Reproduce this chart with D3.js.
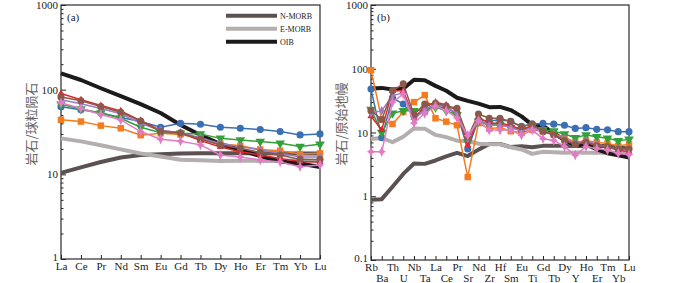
<!DOCTYPE html>
<html>
<head>
<meta charset="utf-8">
<script src="https://cdn.jsdelivr.net/npm/d3@7"></script>
<style>
    body { margin: 0; background: #fff; }
    svg { display: block; font-family: "Liberation Serif", "DejaVu Serif", serif; }
</style>
</head>
<body>
<svg id="chart" width="700" height="283"></svg>
<script>
// REE (chondrite) and spider (primitive mantle) diagrams

const reeElements = ['La', 'Ce', 'Pr', 'Nd', 'Sm', 'Eu', 'Gd', 'Tb', 'Dy', 'Ho', 'Er', 'Tm', 'Yb', 'Lu'];
const spiderElements = ['Rb', 'Ba', 'Th', 'U', 'Nb', 'Ta', 'La', 'Ce', 'Pr', 'Sr', 'Nd', 'Zr', 'Hf',
    'Sm', 'Eu', 'Ti', 'Gd', 'Tb', 'Dy', 'Y', 'Ho', 'Er', 'Tm', 'Yb', 'Lu'];

const refNames = ['N-MORB', 'E-MORB', 'OIB'];

// panel (a) - reference curves
const nmorbA = [10.4, 12.1, 14, 15.8, 16.9, 17.3, 17.6, 17.7, 17.7, 17.7, 17.7, 17.6, 17.6, 17.6];
const emorbA = [26.6, 24.5, 22.1, 19.7, 17.6, 16.2, 14.9, 14.7, 14.4, 14.5, 14.4, 14.4, 14.7, 14.4];
const oibA = [156, 130, 104, 84, 67.6, 53, 38.3, 29.1, 22.8, 19.4, 16.4, 14.2, 13.4, 12.2];

// panel (a) - samples
const blueA = [63, 58, 53, 47, 42, 36, 40, 39, 36, 35, 33.8, 32, 29.2, 30];
const orangeA = [44, 42, 37.6, 35, 29, 30.5, 29.5, 26.6, 23, 21.7, 19.7, 19, 17.4, 17.7];
const greenA = [67, 59, 53, 46, 36, 31, 30.5, 30, 26.6, 25.4, 24.4, 23.3, 21.3, 22.7];
const redA = [90, 76, 65, 56, 43, 33, 31, 25, 21, 18.5, 16.9, 15.4, 14.2, 14];
const purpleA = [76, 68, 60, 52, 40, 33, 31, 27, 23, 21.3, 19.4, 17.7, 16, 16];
const brownA = [82, 74, 63, 54, 42.6, 32, 31, 26, 22.2, 20.3, 18.1, 16.9, 15, 15];
const pinkA = [70, 60, 51, 44, 32, 26, 24.6, 22.3, 16.9, 16, 14.8, 14, 12.3, 12.9];

// panel (b) - reference curves
const nmorbB = [0.88, 0.9, 1.41, 2.24, 3.27, 3.22, 3.64, 4.23, 4.78, 4.27, 5.39, 6.6, 6.6, 5.9, 6.07,
    5.85, 6.17, 6.2, 6.17, 6.15, 6.16, 6.19, 6.16, 5.8, 5.6];
const emorbB = [7.9, 8.2, 7.06, 8.57, 11.6, 11.5, 9.17, 8.45, 7.43, 7.35, 6.65, 6.52, 6.57, 5.86, 5.42,
    4.62, 4.98, 4.91, 4.82, 4.84, 4.82, 4.81, 4.81, 4.81, 4.78];
const oibB = [48.8, 50.1, 47.1, 48.6, 67.3, 65.9, 53.9, 45.1, 35.1, 31.3, 28.4, 25, 25.2, 22.5, 17.9,
    13.2, 12.8, 9.72, 7.6, 6.37, 6.46, 5.46, 4.73, 4.38, 4.05];

// panel (b) - samples
const blueB = [48, 8.3, 35, 28, 18, 21, 26, 24, 20, 5.5, 16, 15, 16, 15, 12.5, 13.5, 13.9, 13.5, 13,
    11.6, 11.9, 11.2, 11, 10.3, 10.3];
const orangeB = [95, 16, 13.6, 21, 30, 38.6, 16.7, 14.8, 13, 2, 14, 11.5, 12, 10.5, 10, 11, 10.5, 9.5,
    8.5, 7, 7.5, 7, 6.7, 6.2, 6.5];
const greenB = [23, 10, 20, 22, 22, 23, 25, 22, 19, 7, 15, 13, 13.5, 12, 11, 12.5, 11, 10.5, 9.5, 8.3,
    9.1, 8.6, 8.1, 7.4, 7.8];
const redB = [18, 11, 45, 45, 17, 25, 30, 27, 22, 6.3, 17, 14, 14, 13, 11, 13, 10.5, 9.5, 8, 6.5, 7.2,
    6.3, 5.8, 5.3, 5];
const purpleB = [20, 22, 38, 42, 16, 23, 28, 25, 20, 8, 16, 13, 13, 12, 10.5, 12, 10, 9.5, 8, 6.8, 7.5,
    6.5, 6, 5.5, 5.3];
const brownB = [22, 16, 45, 58, 19, 28, 28.6, 26, 24, 8.5, 19.5, 16.7, 16.7, 14.8, 12.3, 13.6, 10.3, 9.1,
    7.5, 6.5, 7, 6.2, 6, 5.5, 5.5];
const pinkB = [5, 5, 30, 40, 14, 20, 26, 22, 17, 9, 15.3, 10.9, 10.9, 10.9, 9.1, 10.9, 8, 7.5, 6, 4.4,
    6, 5.6, 5.3, 4.7, 4.5];

const COLORS = {
    nmorb: '#5b5151', emorb: '#b4aeae', oib: '#1c1a1a',
    blue: '#3a6fb4', orange: '#f47b20', green: '#33a13a', red: '#e1262a',
    purple: '#9c7bc4', brown: '#8a594b', pink: '#e27bc3'
};

// four-point star for the pink samples
const star4 = {
    draw(ctx, size) {
        const r = Math.sqrt(size) * 0.85;
        const w = r * 0.3;
        ctx.moveTo(0, -r);
        ctx.lineTo(w, -w);
        ctx.lineTo(r * 0.75, 0);
        ctx.lineTo(w, w);
        ctx.lineTo(0, r);
        ctx.lineTo(-w, w);
        ctx.lineTo(-r * 0.75, 0);
        ctx.lineTo(-w, -w);
        ctx.closePath();
    }
};

const sampleStyles = [
    { key: 'blue', symbol: d3.symbolCircle, size: 40, rotate: 0 },
    { key: 'orange', symbol: d3.symbolSquare, size: 42, rotate: 0 },
    { key: 'green', symbol: d3.symbolTriangle, size: 40, rotate: 180 },
    { key: 'red', symbol: d3.symbolTriangle, size: 22, rotate: 0 },
    { key: 'purple', symbol: d3.symbolDiamond, size: 24, rotate: 0 },
    { key: 'brown', symbol: d3.symbolCircle, size: 40, rotate: 0 },
    { key: 'pink', symbol: star4, size: 40, rotate: 0 }
];

const svg = d3.select('#chart');

function drawPanel(cfg) {
    const g = svg.append('g');

    const x = d3.scalePoint().domain(cfg.elements).range([cfg.left, cfg.right]);
    const y = d3.scaleLog().domain(cfg.yDomain).range([cfg.bottom, cfg.top]);

    // ticks: majors and minors on the left, inward
    const majors = [];
    const minors = [];
    for (let d = cfg.yDomain[0]; d < cfg.yDomain[1] * 0.999; d *= 10) {
        majors.push(+d.toPrecision(3));
        for (let k = 2; k <= 9; k++) minors.push(+(k * d).toPrecision(3));
    }
    majors.push(cfg.yDomain[1]);

    g.append('g')
        .attr('transform', `translate(${cfg.left},0)`)
        .call(d3.axisLeft(y).tickValues(minors).tickSize(-2.5).tickSizeOuter(0).tickFormat(''))
        .call(a => a.select('.domain').remove())
        .call(a => a.selectAll('line').attr('stroke', '#222'));

    g.append('g')
        .attr('transform', `translate(${cfg.left},0)`)
        .call(d3.axisLeft(y).tickValues(majors).tickSize(-5).tickSizeOuter(0).tickPadding(3)
            .tickFormat(d => String(d)))
        .call(a => a.select('.domain').remove())
        .call(a => a.selectAll('line').attr('stroke', '#222'))
        .call(a => a.selectAll('text')
            .attr('font-family', '"Liberation Serif", serif')
            .attr('font-size', '11px')
            .attr('fill', '#222')
            .attr('dy', (d, i) => i === 0 ? '0.1em' : '0.32em'));

    const bottomAxis = g.append('g')
        .attr('transform', `translate(0,${cfg.bottom})`)
        .call(d3.axisBottom(x).tickSize(-4).tickSizeOuter(0).tickPadding(3.5))
        .call(a => a.select('.domain').remove())
        .call(a => a.selectAll('line').attr('stroke', '#222'));
    bottomAxis.selectAll('text')
        .attr('font-family', '"Liberation Serif", serif')
        .attr('font-size', '11px')
        .attr('fill', '#222')
        .attr('dy', (d, i) => (cfg.twoRows && i % 2 === 1) ? '1.72em' : '0.71em');

    // frame
    g.append('rect')
        .attr('x', cfg.left)
        .attr('y', cfg.top)
        .attr('width', cfg.right - cfg.left)
        .attr('height', cfg.bottom - cfg.top)
        .attr('fill', 'none')
        .attr('stroke', '#2a2a2a')
        .attr('stroke-width', 1.2);

    const line = d3.line()
        .x((d, i) => x(cfg.elements[i]))
        .y(d => y(d));

    // reference curves
    cfg.refs.forEach(r => {
        g.append('path')
            .datum(r.values)
            .attr('fill', 'none')
            .attr('stroke', COLORS[r.key])
            .attr('stroke-width', 4)
            .attr('stroke-linejoin', 'round')
            .attr('d', line);
    });

    // samples
    sampleStyles.forEach(s => {
        const vals = cfg.samples[s.key];
        const sg = g.append('g');
        sg.append('path')
            .datum(vals)
            .attr('fill', 'none')
            .attr('stroke', COLORS[s.key])
            .attr('stroke-width', 1.5)
            .attr('d', line);
        sg.selectAll('path.mk')
            .data(vals)
            .join('path')
            .attr('class', 'mk')
            .attr('transform', (d, i) => `translate(${x(cfg.elements[i])},${y(d)}) rotate(${s.rotate})`)
            .attr('fill', COLORS[s.key])
            .attr('d', d3.symbol().type(s.symbol).size(s.size));
    });

    // panel label
    g.append('text')
        .attr('x', cfg.left + 6)
        .attr('y', cfg.top + 16)
        .attr('font-size', '11px')
        .attr('fill', '#222')
        .text(cfg.label);

    // y title
    g.append('text')
        .attr('transform', `translate(${cfg.titleX},124) rotate(-90)`)
        .attr('text-anchor', 'middle')
        .attr('dy', '0.35em')
        .attr('font-family', '"Noto Sans CJK SC", sans-serif')
        .attr('font-size', '13px')
        .attr('fill', '#666')
        .text(cfg.yTitle);

    return { g, x, y };
}

const panelA = drawPanel({
    left: 61, right: 320, top: 5, bottom: 259,
    elements: reeElements,
    yDomain: [1, 1000],
    refs: [
        { key: 'nmorb', values: nmorbA },
        { key: 'emorb', values: emorbA },
        { key: 'oib', values: oibA }
    ],
    samples: { blue: blueA, orange: orangeA, green: greenA, red: redA, purple: purpleA, brown: brownA, pink: pinkA },
    label: '(a)',
    yTitle: '岩石/球粒陨石',
    titleX: 31,
    twoRows: false
});

drawPanel({
    left: 371, right: 629, top: 5, bottom: 260,
    elements: spiderElements,
    yDomain: [0.1, 1000],
    refs: [
        { key: 'nmorb', values: nmorbB },
        { key: 'emorb', values: emorbB },
        { key: 'oib', values: oibB }
    ],
    samples: { blue: blueB, orange: orangeB, green: greenB, red: redB, purple: purpleB, brown: brownB, pink: pinkB },
    label: '(b)',
    yTitle: '岩石/原始地幔',
    titleX: 341,
    twoRows: true
});

// legend in panel (a)
const legend = panelA.g.append('g');
const legendKeys = ['nmorb', 'emorb', 'oib'];
const legendY = d3.scalePoint().domain(refNames).range([15.7, 41.7]);
refNames.forEach((name, i) => {
    legend.append('line')
        .attr('x1', 226)
        .attr('x2', 277)
        .attr('y1', legendY(name))
        .attr('y2', legendY(name))
        .attr('stroke', COLORS[legendKeys[i]])
        .attr('stroke-width', 4);
    legend.append('text')
        .attr('x', 280)
        .attr('y', legendY(name))
        .attr('dy', '0.35em')
        .attr('font-size', '8px')
        .attr('fill', '#222')
        .text(name);
});
</script>
</body>
</html>
